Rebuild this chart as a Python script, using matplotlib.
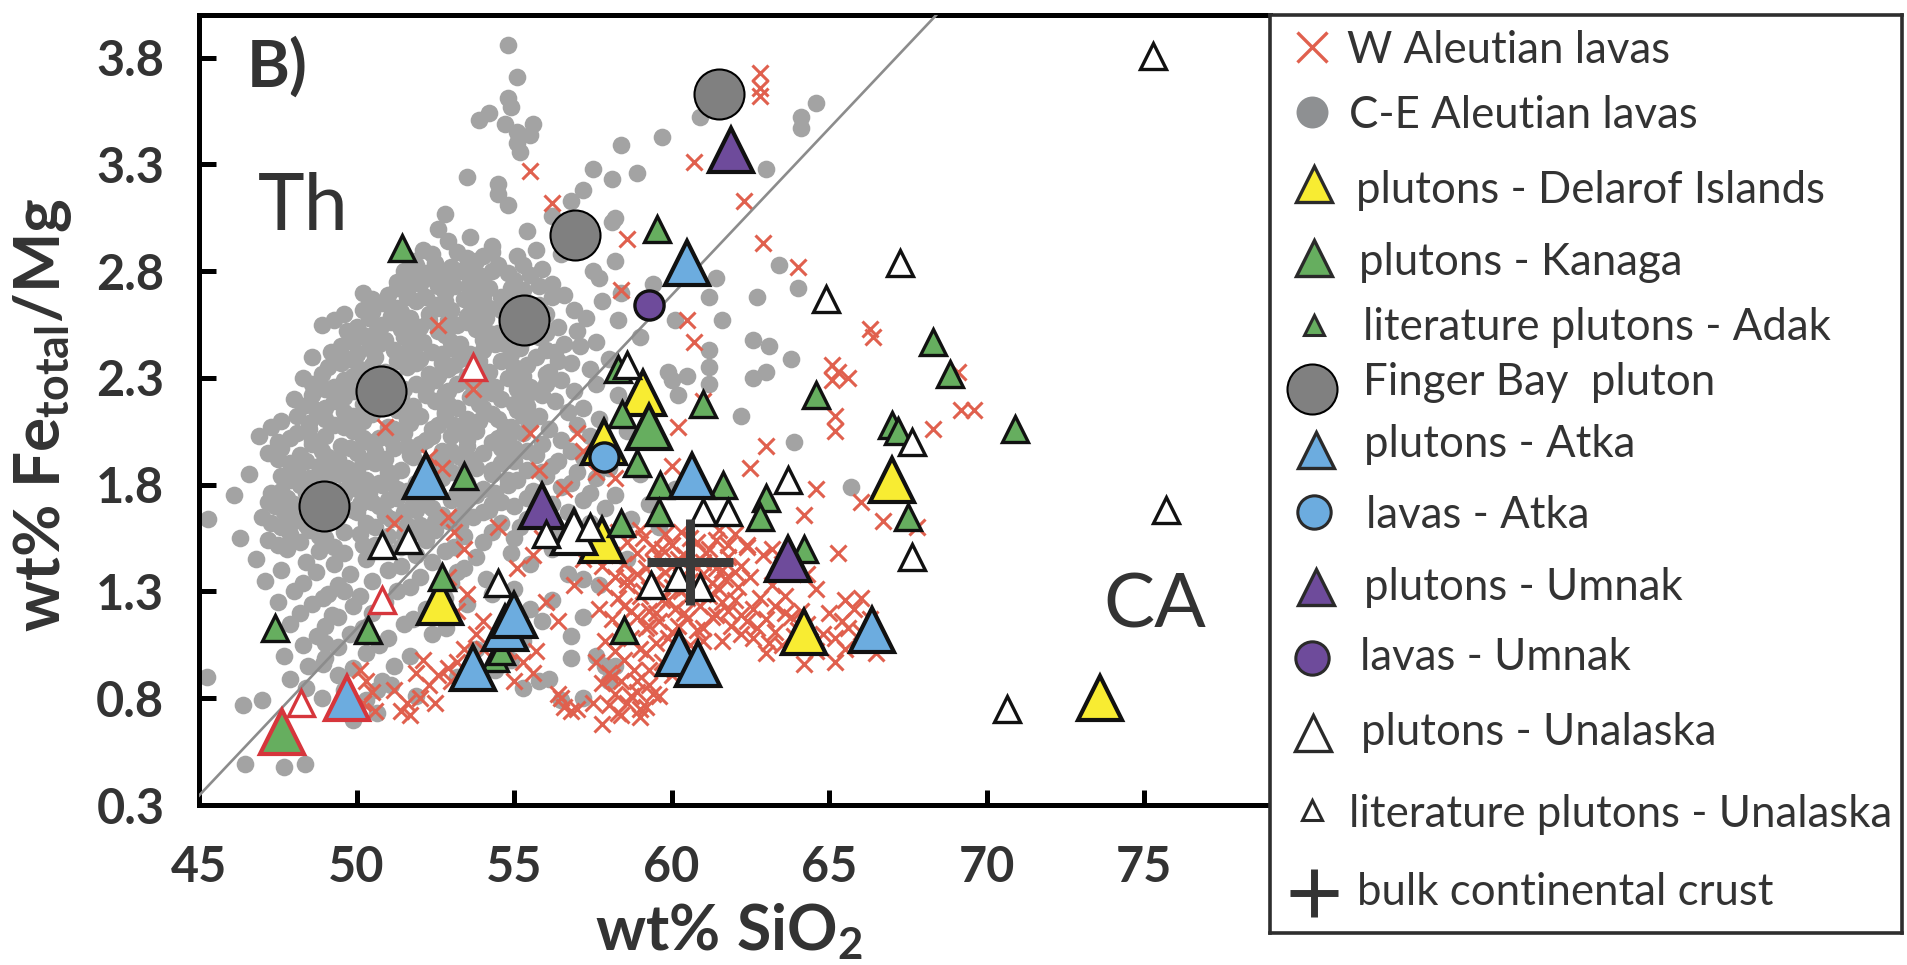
import matplotlib
matplotlib.use("Agg")
import matplotlib.pyplot as plt

plt.rcParams['font.family'] = ['Lato', 'DejaVu Sans']
plt.rcParams['mathtext.fontset'] = 'custom'
plt.rcParams['mathtext.rm'] = 'Lato'
plt.rcParams['mathtext.bf'] = 'Lato:bold'
plt.rcParams['mathtext.it'] = 'Lato:italic'
plt.rcParams['mathtext.sf'] = 'Lato'

# ---------------- data (wt% SiO2, Fe_total/Mg) ----------------
# C-E Aleutian lavas (grey dots)
ce_lavas = [
    (54.8,3.86),(55.1,3.71),(54.8,3.61),(54.9,3.57),(54.2,3.54),(53.9,3.51),(54.7,3.49),(55.1,3.45),
    (55.6,3.49),(55.5,3.44),(55.1,3.40),(55.2,3.36),(53.5,3.24),(54.5,3.21),(54.5,3.16),(54.8,3.11),
    (64.6,3.59),(64.1,3.52),(64.1,3.47),(60.9,3.52),(59.7,3.43),(58.4,3.39),(58.9,3.26),(58.1,3.23),
    (57.5,3.28),(57.2,3.18),(56.8,3.13),(56.2,3.06),(58.2,3.05),(63.0,3.28),(58.1,3.03),(58.2,2.85),
    (61.4,2.77),(57.7,2.77),(62.7,2.68),(61.2,2.68),(61.6,2.57),(60.1,2.57),(59.4,2.74),(58.3,2.57),
    (59.0,2.49),(62.6,2.48),(63.1,2.45),(63.8,2.39),(64.0,2.72),(63.4,2.83),(63.0,2.33),(62.6,2.30),
    (62.2,2.12),(63.9,2.00),(61.2,2.43),(61.2,2.35),(61.2,2.27),(60.5,2.31),(60.0,2.29),(59.9,2.33),
    (60.2,2.22),(65.7,1.79),(59.6,1.60),(58.2,0.95),(58.0,0.88),
    (52.8,3.07),(52.6,3.00),(52.9,2.94),(55.4,2.99),(54.3,2.92),(53.6,2.96),(52.1,2.90),(53.2,2.89),
    (54.0,2.87),(55.7,2.90),(56.5,2.88),(51.8,2.85),(52.5,2.84),(53.0,2.82),(53.8,2.85),(54.5,2.83),
    (51.5,2.80),(52.2,2.79),(52.7,2.78),(53.3,2.80),(54.0,2.77),(54.8,2.79),(55.9,2.81),(57.5,2.80),
    (51.3,2.75),(52.0,2.74),(52.5,2.76),(53.1,2.73),(53.6,2.75),(54.2,2.72),(56.2,2.74),
    (50.2,2.70),(51.0,2.69),(51.6,2.71),(52.2,2.68),(52.8,2.70),(53.4,2.67),(53.9,2.70),(54.6,2.68),
    (55.3,2.71),(56.6,2.69),(58.4,2.70),
    (50.8,2.65),(51.3,2.63),(51.9,2.66),(52.5,2.64),(53.0,2.62),(53.6,2.65),(54.2,2.63),(55.8,2.64),
    (56.9,2.62),(57.8,2.66),
    (49.6,2.60),(50.5,2.61),(51.1,2.59),(51.7,2.58),(52.3,2.60),(52.9,2.57),(53.5,2.59),(54.1,2.58),
    (54.8,2.56),(56.0,2.60),(57.3,2.58),
    (48.9,2.55),(50.0,2.54),(50.8,2.55),(51.4,2.53),(52.0,2.54),(52.6,2.52),(53.2,2.55),(53.8,2.53),
    (54.5,2.51),(56.4,2.54),(57.0,2.52),
    (50.2,2.50),(50.9,2.48),(51.5,2.49),(52.1,2.47),(52.8,2.50),(53.3,2.46),(54.0,2.48),(54.7,2.46),
    (55.8,2.49),(57.6,2.47),
    (49.5,2.45),(50.4,2.44),(51.2,2.43),(51.8,2.45),(52.4,2.42),(53.0,2.44),(53.6,2.41),(55.2,2.44),
    (56.3,2.42),(57.1,2.45),
    (48.6,2.40),(49.8,2.39),(50.6,2.40),(51.3,2.38),(52.0,2.39),(52.7,2.37),(53.3,2.39),(54.6,2.38),
    (55.7,2.40),(56.8,2.37),(58.0,2.39),
    (49.1,2.35),(50.1,2.34),(50.9,2.33),(51.6,2.35),(52.3,2.32),(52.9,2.34),(53.5,2.31),(54.2,2.33),
    (55.0,2.35),(56.0,2.32),(57.4,2.34),
    (48.3,2.30),(49.6,2.29),(50.4,2.28),(51.2,2.30),(51.9,2.27),(52.5,2.29),(53.2,2.27),(54.0,2.28),
    (54.8,2.30),(55.5,2.26),(56.5,2.29),(57.6,2.27),
    (49.0,2.25),(49.9,2.24),(50.8,2.23),(51.5,2.25),(52.2,2.22),(52.9,2.24),(53.6,2.21),(54.3,2.23),
    (55.1,2.25),(55.9,2.22),(56.9,2.24),(58.3,2.22),
    (48.0,2.20),(49.3,2.19),(50.2,2.18),(51.0,2.20),(51.8,2.17),(52.5,2.19),(53.2,2.16),(53.9,2.18),
    (54.6,2.20),(55.4,2.17),(56.3,2.19),(57.2,2.16),
    (48.7,2.15),(49.6,2.14),(50.5,2.13),(51.3,2.15),(52.0,2.12),(52.8,2.14),(53.5,2.11),(54.3,2.13),
    (55.1,2.15),(55.8,2.12),(56.7,2.14),(57.7,2.11),
    (47.6,2.10),(48.5,2.09),(49.3,2.08),(50.2,2.10),(51.0,2.07),(51.7,2.09),(52.4,2.06),(53.1,2.08),
    (53.9,2.10),(54.7,2.07),(55.5,2.09),(56.1,2.06),(57.0,2.08),
    (46.9,2.03),(48.1,2.04),(49.0,2.03),(49.9,2.05),(50.7,2.02),(51.5,2.04),(52.2,2.01),(53.0,2.03),
    (53.8,2.05),(54.5,2.02),(55.3,2.04),(56.5,2.01),(57.4,2.03),(58.6,2.05),
    (47.5,2.00),(48.6,1.99),(49.5,1.98),(50.4,2.00),(51.2,1.97),(52.0,1.99),(52.7,1.96),(53.5,1.98),
    (54.3,2.00),(55.0,1.97),(55.9,1.99),(56.8,1.96),
    (47.2,1.95),(48.2,1.94),(49.1,1.93),(50.0,1.95),(50.9,1.92),(51.7,1.94),(52.5,1.91),(53.3,1.93),
    (54.0,1.95),(54.8,1.92),(55.7,1.94),(56.4,1.91),(57.2,1.93),
    (47.9,1.90),(48.8,1.89),(49.7,1.88),(50.6,1.90),(51.4,1.87),(52.2,1.89),(53.0,1.86),(53.8,1.88),
    (54.6,1.90),(55.4,1.87),(56.2,1.89),(57.0,1.86),(58.0,1.88),
    (46.6,1.85),(47.6,1.84),(48.5,1.83),(49.4,1.85),(50.3,1.82),(51.1,1.84),(51.9,1.81),(52.7,1.83),
    (54.3,1.85),(55.1,1.82),(56.0,1.84),(56.8,1.81),(57.6,1.83),(59.0,1.85),
    (47.3,1.76),(48.2,1.80),(49.1,1.79),(50.0,1.78),(50.8,1.80),(51.6,1.77),(52.4,1.79),(53.2,1.76),
    (54.0,1.78),(54.8,1.80),(55.6,1.77),(56.5,1.79),(57.4,1.76),(60.1,1.78),
    (46.1,1.75),(47.8,1.74),(48.7,1.73),(49.6,1.75),(50.5,1.72),(51.3,1.74),(52.2,1.71),(53.0,1.73),
    (53.8,1.75),(54.6,1.72),(55.4,1.74),(56.2,1.71),(57.2,1.73),(58.2,1.75),
    (47.4,1.70),(48.3,1.69),(49.9,1.68),(50.7,1.70),(51.5,1.67),(52.4,1.69),(53.3,1.66),(54.2,1.68),
    (55.0,1.70),(56.7,1.67),(57.9,1.69),(59.3,1.71),
    (45.3,1.64),(47.0,1.65),(48.0,1.63),(49.4,1.65),(50.3,1.62),(51.1,1.64),(52.0,1.61),(52.9,1.63),
    (53.7,1.65),(54.6,1.62),(55.4,1.64),(57.4,1.62),(58.7,1.64),
    (47.6,1.60),(48.5,1.59),(49.6,1.58),(50.6,1.60),(51.5,1.57),(52.5,1.59),(53.4,1.56),(54.3,1.58),
    (55.2,1.60),(56.3,1.57),
    (46.3,1.55),(47.2,1.54),(48.2,1.53),(49.0,1.55),(50.2,1.52),(52.2,1.54),(53.1,1.51),(54.0,1.53),
    (55.0,1.55),(57.5,1.52),
    (47.8,1.50),(48.8,1.49),(49.6,1.48),(50.9,1.50),(51.9,1.47),(52.8,1.49),(53.8,1.46),(54.9,1.48),
    (56.2,1.50),
    (46.8,1.45),(48.4,1.44),(49.3,1.43),(50.3,1.45),(51.4,1.42),(52.4,1.44),(53.4,1.41),(55.5,1.43),
    (58.6,1.45),
    (47.6,1.40),(48.7,1.39),(49.8,1.38),(51.0,1.40),(52.0,1.37),(53.2,1.39),(54.1,1.36),(56.7,1.38),
    (57.2,1.36),
    (47.1,1.35),(48.3,1.34),(49.4,1.33),(50.5,1.35),(51.7,1.32),(53.0,1.34),(55.0,1.31),(57.7,1.33),
    (48.0,1.30),(49.1,1.29),(49.6,1.30),(50.1,1.28),(51.3,1.30),(52.8,1.27),(54.3,1.29),(56.2,1.26),
    (47.5,1.25),(48.6,1.24),(48.95,1.27),(49.9,1.23),(50.9,1.25),(52.2,1.22),(53.5,1.24),(55.5,1.22),
    (48.2,1.20),(49.23,1.19),(49.4,1.18),(50.5,1.20),(51.8,1.17),(53.0,1.19),(55.9,1.16),(57.2,1.18),
    (47.9,1.15),(49.0,1.14),(50.2,1.13),(51.5,1.15),(52.85,1.13),(54.7,1.12),
    (48.74,1.09),(49.8,1.10),(51.0,1.08),(52.4,1.10),(55.3,1.07),(56.8,1.09),
    (48.3,1.05),(49.0,1.06),(49.4,1.04),(50.7,1.05),(53.8,1.03),
    (47.7,1.00),(49.0,0.99),(50.3,1.01),(51.7,1.00),(54.9,0.98),(56.8,0.99),(57.6,1.00),
    (48.46,0.95),(48.95,0.96),(49.9,0.94),(51.2,0.95),(54.4,0.93),(57.9,0.95),
    (45.24,0.90),(47.9,0.89),(49.4,0.91),(50.8,0.88),(53.2,0.90),(56.1,0.89),(55.8,0.88),
    (48.4,0.85),(49.6,0.84),(50.65,0.84),(51.1,0.86),(55.3,0.85),
    (47.0,0.79),(48.9,0.80),(50.3,0.79),(51.9,0.81),(56.5,0.79),(57.2,0.80),
    (46.4,0.77),(50.65,0.73),(49.9,0.70),
    (46.46,0.49),(47.7,0.48),(48.35,0.49),
    # densest part of the cloud
    (52.4,2.88),(53.5,2.86),(54.3,2.89),(55.1,2.87),(51.9,2.83),(53.7,2.81),(54.3,2.80),(55.3,2.83),
    (51.7,2.77),(52.9,2.76),(53.9,2.78),(55.0,2.76),(55.5,2.78),(51.3,2.72),(52.6,2.73),(53.6,2.71),
    (54.9,2.72),(55.8,2.73),(50.5,2.67),(51.6,2.68),(52.8,2.66),(54.0,2.67),(55.0,2.66),(56.2,2.68),
    (50.2,2.62),(51.4,2.61),(52.6,2.63),(53.8,2.61),(54.6,2.62),(55.4,2.60),(49.3,2.57),(50.4,2.58),
    (51.1,2.56),(52.3,2.57),(53.5,2.56),(55.1,2.58),(55.7,2.55),(49.7,2.52),(50.6,2.51),(51.8,2.52),
    (52.9,2.53),(54.2,2.51),(55.0,2.53),(56.0,2.51),(49.9,2.47),(50.7,2.46),(51.9,2.48),(53.0,2.47),
    (54.4,2.46),(55.3,2.48),(56.6,2.46),(49.2,2.42),(50.0,2.41),(51.6,2.42),(52.7,2.41),(54.0,2.43),
    (54.9,2.41),(56.0,2.43),(49.5,2.37),(50.5,2.36),(51.9,2.37),(53.1,2.36),(53.9,2.38),(55.4,2.36),
    (56.4,2.38),(48.9,2.32),(49.9,2.31),(51.0,2.32),(52.6,2.31),(53.8,2.33),(55.3,2.31),(56.1,2.33),
    (48.6,2.27),(49.3,2.26),(50.8,2.27),(52.2,2.26),(53.6,2.28),(54.4,2.26),(56.0,2.27),(48.6,2.22),
    (49.6,2.21),(50.5,2.22),(51.4,2.21),(52.8,2.23),(53.9,2.21),(55.4,2.22),(48.3,2.17),(49.0,2.16),
    (50.6,2.17),(51.6,2.16),(52.9,2.18),(54.0,2.16),(55.0,2.18),(48.1,2.12),(49.0,2.11),(49.9,2.12),
    (51.6,2.11),(52.8,2.13),(54.5,2.11),(55.3,2.12),(47.3,2.07),(48.5,2.06),(49.6,2.07),(51.2,2.06),
    (52.6,2.08),(53.4,2.06),(54.9,2.07),(47.9,2.02),(48.6,2.01),(50.2,2.02),(51.1,2.01),(52.4,2.03),
    (53.5,2.01),(54.8,2.02),(47.6,1.97),(48.9,1.96),(49.8,1.97),(50.6,1.96),(51.6,1.98),(53.0,1.96),
    (54.6,1.97),(55.4,1.96),(47.5,1.92),(48.4,1.91),(49.4,1.92),(50.3,1.91),(51.8,1.93),(52.8,1.91),
    (53.6,1.92),(55.0,1.91),(48.1,1.87),(49.1,1.86),(50.0,1.87),(51.0,1.86),(52.6,1.88),(53.4,1.86),
    (54.3,1.87),(55.9,1.86),(47.9,1.82),(48.8,1.81),(49.8,1.82),(50.7,1.81),(52.3,1.83),(53.5,1.81),
    (54.8,1.82),(47.6,1.77),(48.4,1.76),(49.5,1.77),(50.4,1.76),(51.3,1.78),(52.0,1.76),(53.6,1.77),
    (54.4,1.76),(47.2,1.72),(48.0,1.71),(49.1,1.72),(50.1,1.71),(51.0,1.73),(51.8,1.71),(53.4,1.72),
    (54.3,1.71),(47.7,1.67),(48.7,1.66),(50.0,1.67),(50.9,1.66),(51.9,1.68),(52.7,1.66),(54.0,1.67),
    (47.3,1.62),(48.4,1.61),(49.0,1.62),(51.6,1.61),(52.5,1.63),(53.3,1.61),(47.9,1.57),(48.8,1.56),
    (50.1,1.57),(51.0,1.56),(52.0,1.58),(47.5,1.52),(49.3,1.51),(50.6,1.52),(51.4,1.51),
]
ce_sio2 = [p[0] for p in ce_lavas]
ce_femg = [p[1] for p in ce_lavas]

# W Aleutian lavas (red crosses)
w_lavas = [
    (62.8,3.73),(62.8,3.66),(62.8,3.62),(60.7,3.31),(62.3,3.13),(55.5,3.27),(56.2,3.12),(58.6,2.95),
    (62.9,2.93),(64.0,2.82),(58.4,2.71),(52.6,2.55),(60.5,2.57),(60.7,2.47),(66.3,2.53),(66.4,2.49),
    (65.1,2.36),(65.3,2.33),(65.6,2.30),(65.1,2.29),(65.2,2.12),(65.2,2.05),(68.3,2.06),(69.2,2.15),
    (69.6,2.15),(69.1,2.33),(61.0,2.19),(60.2,2.07),(60.0,1.89),(64.6,1.78),(66.0,1.72),(66.7,1.63),
    (67.8,1.60),(65.3,1.48),(64.3,1.38),(63.2,1.50),(62.4,1.51),(61.4,1.54),(59.3,2.12),(63.0,1.98),
    (62.5,1.88),(64.2,1.66),
    (50.9,2.07),(55.5,2.04),(52.3,1.93),(52.7,1.88),(55.8,1.87),(57.2,1.96),(57.0,2.04),(56.6,1.78),
    (57.6,1.86),(58.2,1.83),(53.7,2.25),(51.2,1.62),
    (58.3,1.58),(59.0,1.59),(59.8,1.57),(60.3,1.58),(61.5,1.59),(62.0,1.57),
    (57.6,1.52),(58.6,1.53),(59.4,1.51),(60.0,1.52),(60.8,1.53),(62.4,1.52),
    (58.1,1.47),(58.9,1.48),(59.6,1.46),(60.4,1.47),(61.1,1.48),(61.8,1.46),(62.9,1.47),
    (57.8,1.42),(58.5,1.43),(59.2,1.41),(60.0,1.42),(60.7,1.43),(61.4,1.41),(62.2,1.42),(63.5,1.43),
    (58.2,1.37),(58.9,1.38),(59.5,1.36),(60.3,1.37),(61.0,1.38),(61.7,1.36),(62.5,1.37),
    (57.9,1.32),(58.6,1.33),(59.3,1.31),(60.0,1.32),(60.8,1.33),(61.5,1.31),(62.1,1.32),(63.2,1.33),
    (64.6,1.31),
    (58.3,1.27),(59.0,1.28),(59.7,1.26),(60.5,1.27),(61.2,1.28),(62.0,1.26),(62.8,1.27),(63.6,1.28),
    (65.5,1.26),(66.0,1.27),
    (57.7,1.22),(58.5,1.23),(59.3,1.21),(60.1,1.22),(60.9,1.23),(61.8,1.21),(62.6,1.22),(63.3,1.23),
    (64.1,1.21),(65.8,1.22),
    (58.1,1.17),(58.9,1.18),(59.6,1.16),(60.5,1.17),(61.3,1.18),(62.4,1.16),(63.0,1.17),(63.8,1.18),
    (65.4,1.16),(66.3,1.17),
    (58.4,1.12),(59.2,1.13),(60.0,1.11),(60.8,1.12),(62.7,1.13),(63.3,1.11),(64.0,1.12),(65.6,1.13),
    (66.0,1.11),
    (57.9,1.07),(58.7,1.08),(59.5,1.06),(61.0,1.07),(62.6,1.08),(63.1,1.06),(64.4,1.07),(65.2,1.08),
    (66.5,1.06),
    (58.2,1.02),(59.0,1.03),(63.0,1.01),(64.6,1.02),(65.5,1.03),(66.5,1.01),
    (57.6,0.97),(58.5,0.98),(64.2,0.96),(65.2,0.97),
    (58.0,0.92),(58.8,0.93),(60.0,0.91),
    (57.8,0.87),(58.4,0.88),(59.3,0.86),
    (58.2,0.82),(58.9,0.83),(59.6,0.81),
    (58.0,0.77),(58.6,0.78),(59.2,0.76),
    (58.4,0.72),(59.0,0.71),
    (50.1,0.93),(50.3,0.88),(50.5,0.83),(50.2,0.78),(50.6,0.74),(51.6,0.78),(51.4,0.74),(51.7,0.72),
    (52.0,0.80),(52.3,0.86),(52.6,0.91),(52.9,0.94),(53.2,0.97),(53.0,0.88),(52.5,0.78),(53.6,0.92),
    (54.0,1.03),(54.8,1.02),(55.3,0.97),(55.6,0.92),(55.0,0.88),(56.4,0.82),(56.6,0.76),(57.0,0.75),
    (51.9,0.92),(52.1,0.98),(51.2,0.84),(53.4,1.03),
    (52.9,1.65),(53.1,1.58),(53.4,1.50),(52.9,1.37),(53.5,1.29),(53.2,1.21),(54.5,1.60),(55.1,1.41),
    (55.6,1.47),(56.4,1.16),(55.7,1.02),(54.0,1.16),(56.9,1.33),(57.2,1.45),(56.0,1.25),(54.6,1.07),
    (53.8,1.10),(55.9,1.55),
    (58.1,0.90),(58.7,0.81),(58.3,0.73),(57.5,0.78),(57.8,0.68),(59.0,0.75),(59.4,0.82),(56.5,0.80),
    (56.8,0.74),(60.1,0.93),
    # densest red patch
    (59.1,1.55),(59.7,1.50),(60.6,1.55),(61.2,1.50),(61.8,1.52),(59.4,1.44),(60.2,1.45),(61.0,1.44),
    (61.6,1.40),(59.8,1.39),(60.6,1.35),(61.3,1.34),(62.0,1.39),(59.1,1.30),(59.9,1.26),(60.3,1.30),
    (61.0,1.29),(61.6,1.25),(59.5,1.20),(60.4,1.20),(61.4,1.19),(62.2,1.19),(59.3,1.14),(60.2,1.14),
    (61.0,1.13),(61.9,1.14),(59.9,1.08),(60.6,1.05),(61.6,1.07),(62.2,1.10),(59.2,1.01),(59.7,0.97),
    (60.5,1.00),(59.3,0.93),(58.9,0.88),(63.6,1.20),(64.3,1.15),(63.9,1.09),(64.8,1.10),(65.0,1.20),
    (63.5,1.05),(58.6,1.36),(58.7,1.21),(57.9,1.47),
]
w_sio2 = [p[0] for p in w_lavas]
w_femg = [p[1] for p in w_lavas]

delarof_sio2 = [59.1, 57.85, 57.8, 52.66, 64.2, 67.0, 73.6]
delarof_femg = [2.23, 2.00, 1.54, 1.25, 1.11, 1.82, 0.80]

kanaga_sio2 = [59.3]
kanaga_femg = [2.07]
kanaga_rim_sio2 = [47.65]
kanaga_rim_femg = [0.64]

adak_sio2 = [51.43, 59.55, 58.3, 58.44, 58.9, 53.4, 61.0, 68.3, 68.85, 64.6, 70.9, 67.0, 67.2,
             59.64, 61.64, 63.0, 62.8, 59.6, 58.4, 64.2, 67.5, 58.5, 47.4, 50.35, 52.7, 54.4, 54.6]
adak_femg = [2.91, 3.00, 2.34, 2.13, 1.90, 1.84, 2.18, 2.47, 2.32, 2.22, 2.06, 2.08, 2.05,
             1.80, 1.80, 1.74, 1.65, 1.67, 1.62, 1.50, 1.65, 1.12, 1.13, 1.12, 1.37, 0.99, 1.02]

fingerbay_sio2 = [61.5, 56.95, 55.33, 50.79, 48.98]
fingerbay_femg = [3.63, 2.97, 2.57, 2.24, 1.70]

atka_plut_sio2 = [60.5, 52.2, 60.65, 54.7, 55.0, 53.7, 60.25, 60.85, 66.35]
atka_plut_femg = [2.84, 1.84, 1.84, 1.13, 1.19, 0.94, 1.01, 0.96, 1.12]
atka_rim_sio2 = [49.7]
atka_rim_femg = [0.80]

atka_lava_sio2 = [57.85]
atka_lava_femg = [1.93]

umnak_plut_sio2 = [61.9, 55.9, 63.7]
umnak_plut_femg = [3.37, 1.70, 1.45]

umnak_lava_sio2 = [59.3]
umnak_lava_femg = [2.64]

unalaska_sio2 = [56.9]
unalaska_femg = [1.58]

unalaska_lit_sio2 = [75.3, 67.25, 64.9, 67.62, 63.7, 61.0, 61.8, 60.2, 60.9, 59.35, 67.65, 75.7,
                     70.65, 50.8, 51.65, 56.0, 57.4, 54.5, 58.6]
unalaska_lit_femg = [3.81, 2.84, 2.67, 2.00, 1.82, 1.67, 1.67, 1.37, 1.32, 1.33, 1.46, 1.68,
                     0.75, 1.52, 1.54, 1.57, 1.60, 1.34, 2.36]
unalaska_lit_rim_sio2 = [50.8, 48.25, 53.7]
unalaska_lit_rim_femg = [1.26, 0.78, 2.35]

bcc_sio2 = [60.6]
bcc_femg = [1.44]

# Th / CA dividing line (Miyashiro)
line_slope = 0.1562
line_intercept = -6.685

x_ticks = [45, 50, 55, 60, 65, 70, 75]
y_ticks = [0.3, 0.8, 1.3, 1.8, 2.3, 2.8, 3.3, 3.8]

legend_labels = ["W Aleutian lavas", "C-E Aleutian lavas", "plutons - Delarof Islands",
                 "plutons - Kanaga", "literature plutons - Adak", "Finger Bay  pluton",
                 "plutons - Atka", "lavas - Atka", "plutons - Umnak", "lavas - Umnak",
                 "plutons - Unalaska", "literature plutons - Unalaska", "bulk continental crust"]

# ---------------- styles ----------------
RED_X = '#E0604E'
GREY_DOT = '#A3A3A3'
YELLOW = '#F8EC32'
GREEN = '#66AE5F'
BLUE = '#6CACDF'
PURPLE = '#6E4B9B'
FB_GREY = '#808080'
RIM = '#D6363C'
TXT = '#333333'
EDGE = '#111111'

W, H = 1907, 965
fig = plt.figure(figsize=(W / 100, H / 100), dpi=100)
ax = fig.add_axes([199 / W, 1 - 805 / H, (1270 - 199) / W, (805 - 15) / H])
ax.set_xlim(45, 79)
ax.set_ylim(0.3, 4.0)

BIG = 31
SMALL = 19

ax.plot(ce_sio2, ce_femg, 'o', ms=12.7, mfc=GREY_DOT, mec='none', zorder=2)
ax.plot(w_sio2, w_femg, 'x', ms=11, mew=2.2, color=RED_X, zorder=3)
ax.axline((0, line_intercept), slope=line_slope, color='#8C8C8C', lw=1.9, zorder=4)

def tri(x, y, fc, ms, ec=EDGE, mew=3.0, z=6):
    ax.plot(x, y, '^', ms=ms, mfc=fc, mec=ec, mew=mew, ls='none', zorder=z)

tri(delarof_sio2, delarof_femg, YELLOW, BIG)
tri(kanaga_sio2, kanaga_femg, GREEN, BIG)
tri(kanaga_rim_sio2, kanaga_rim_femg, GREEN, BIG, ec=RIM)
tri(adak_sio2, adak_femg, GREEN, SMALL, mew=2.4)
ax.plot(fingerbay_sio2, fingerbay_femg, 'o', ms=36, mfc=FB_GREY, mec='black', mew=1.5, ls='none', zorder=6)
tri(atka_plut_sio2, atka_plut_femg, BLUE, BIG)
tri(atka_rim_sio2, atka_rim_femg, BLUE, BIG, ec=RIM)
ax.plot(atka_lava_sio2, atka_lava_femg, 'o', ms=21, mfc=BLUE, mec=EDGE, mew=2.4, ls='none', zorder=7)
tri(umnak_plut_sio2, umnak_plut_femg, PURPLE, BIG)
ax.plot(umnak_lava_sio2, umnak_lava_femg, 'o', ms=21, mfc=PURPLE, mec=EDGE, mew=2.4, ls='none', zorder=7)
tri(unalaska_sio2, unalaska_femg, 'white', BIG, z=7)
tri(unalaska_lit_sio2, unalaska_lit_femg, 'white', SMALL, mew=2.4, z=7)
tri(unalaska_lit_rim_sio2, unalaska_lit_rim_femg, 'white', SMALL, ec=RIM, mew=2.4, z=7)
ax.plot(bcc_sio2, bcc_femg, '+', ms=62, mew=6.5, color='#3A3A3A', ls='none', zorder=8)

# axes styling
for side in ('left', 'bottom', 'top'):
    ax.spines[side].set_linewidth(3.6)
    ax.spines[side].set_color('black')
ax.spines['right'].set_visible(False)
ax.set_xticks(x_ticks)
ax.set_yticks(y_ticks)
ax.set_xticklabels([str(v) for v in x_ticks])
ax.set_yticklabels([f"{v:.1f}" for v in y_ticks])
ax.tick_params(axis='x', direction='in', length=10.8, width=3.6, pad=29, labelsize=35,
               labelcolor=TXT, color='black')
ax.tick_params(axis='y', direction='in', length=12, width=3.6, pad=25, labelsize=35,
               labelcolor=TXT, color='black')
for lbl in ax.get_xticklabels() + ax.get_yticklabels():
    lbl.set_fontweight('bold')

ax.text(0.0448, 0.9089, 'B)', transform=ax.transAxes, fontsize=47, fontweight='bold',
        color=TXT, ha='left', va='baseline')
ax.text(0.0551, 0.7278, 'Th', transform=ax.transAxes, fontsize=57, color=TXT,
        ha='left', va='baseline')
ax.text(0.8441, 0.2241, 'CA', transform=ax.transAxes, fontsize=55, color=TXT,
        ha='left', va='baseline')

fig.text(729 / W, 1 - 950 / H, r'$\mathbf{wt\%\ SiO_2}$', fontsize=45, color=TXT,
         ha='center', va='baseline')
fig.text(60 / W, 1 - 415 / H, r'$\mathbf{wt\%\ Fe_{total}/Mg}$', fontsize=46, color=TXT,
         ha='center', va='baseline', rotation=90, rotation_mode='anchor')

# ---------------- legend box ----------------
lax = fig.add_axes([1270 / W, 1 - 933 / H, (1902 - 1270) / W, (933 - 15) / H])
lax.set_xlim(1270, 1902)
lax.set_ylim(933, 15)
lax.set_xticks([])
lax.set_yticks([])
for s in lax.spines.values():
    s.set_linewidth(2.6)
    s.set_color('#2E2E2E')

LE = '#2A2A2A'
leg_styles = [
    dict(marker='x', ms=21, mew=2.4, color=RED_X),
    dict(marker='o', ms=23, mfc='#8E9092', mec='none'),
    dict(marker='^', ms=26, mfc=YELLOW, mec=LE, mew=2.4),
    dict(marker='^', ms=26, mfc=GREEN, mec=LE, mew=2.4),
    dict(marker='^', ms=15, mfc=GREEN, mec=LE, mew=2.2),
    dict(marker='o', ms=36, mfc=FB_GREY, mec='black', mew=1.5),
    dict(marker='^', ms=26, mfc=BLUE, mec=LE, mew=2.4),
    dict(marker='o', ms=24, mfc=BLUE, mec=LE, mew=2.2),
    dict(marker='^', ms=26, mfc=PURPLE, mec=LE, mew=2.4),
    dict(marker='o', ms=24, mfc=PURPLE, mec=LE, mew=2.2),
    dict(marker='^', ms=26, mfc='white', mec=LE, mew=2.4),
    dict(marker='^', ms=15, mfc='white', mec=LE, mew=2.2),
    dict(marker='+', ms=34, mew=5, color='#333333'),
]
leg_marker_xy = [(1311.7, 46.7), (1311.5, 112), (1314, 184), (1314, 258), (1313.5, 325),
                 (1311.8, 389), (1315.5, 450), (1314, 512.5), (1316, 587), (1311.8, 658),
                 (1312.7, 733), (1312.3, 810), (1314.3, 893.3)]
leg_text_xy = [(1347, 63.3), (1349, 128.3), (1356.5, 203.3), (1358.6, 275), (1362.6, 340),
               (1362.6, 395), (1364.3, 456.7), (1366.3, 528.3), (1364.3, 600), (1360.2, 670),
               (1361.4, 745), (1349.2, 826.7), (1357.3, 905)]
for lab, sty, mxy, txy in zip(legend_labels, leg_styles, leg_marker_xy, leg_text_xy):
    lax.plot([mxy[0]], [mxy[1]], ls='none', clip_on=False, **sty)
    lax.text(txy[0], txy[1], lab, fontsize=31.5, color=TXT, ha='left', va='baseline')

fig.savefig('out.png', dpi=100)
